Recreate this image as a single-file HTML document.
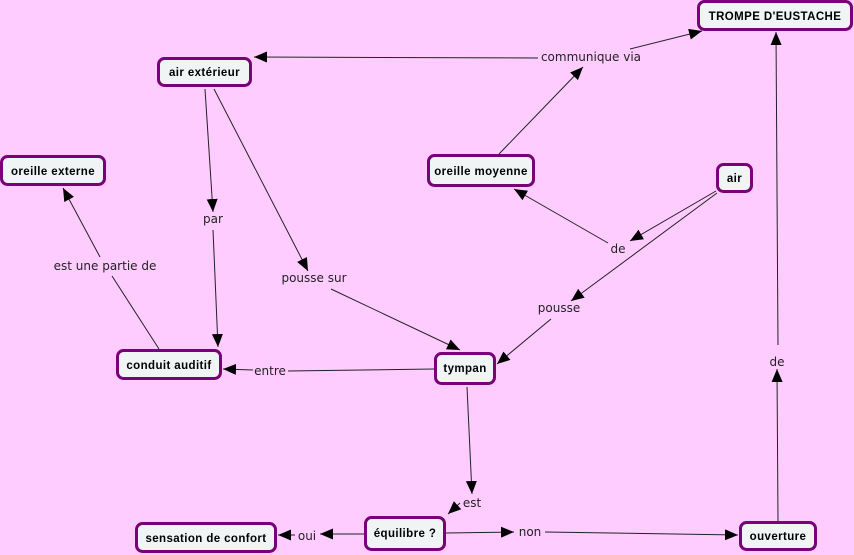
<!DOCTYPE html>
<html><head><meta charset="utf-8"><style>
html,body{margin:0;padding:0;background:#ffccff;}
svg{display:block;}
.n{fill:#f0f4f4;stroke:#780078;stroke-width:3;}
.t{font-family:"Liberation Sans",sans-serif;font-weight:bold;font-size:11.5px;letter-spacing:0.4px;fill:#000;text-anchor:middle;}
.l{font-family:"DejaVu Sans","Liberation Sans",sans-serif;font-size:12px;fill:#222;text-anchor:middle;}
line{stroke:#222;stroke-width:1;}
</style></head><body>
<svg width="854" height="555" viewBox="0 0 854 555" xmlns="http://www.w3.org/2000/svg">
<defs>
<marker id="a" markerUnits="userSpaceOnUse" markerWidth="13" markerHeight="11" refX="13" refY="5.5" orient="auto">
<path d="M0,0 L13,5.5 L0,11 z" fill="#000"/>
</marker>
</defs>
<rect x="0" y="0" width="854" height="555" fill="#ffccff"/>

<!-- connectors -->
<line x1="538" y1="58" x2="254" y2="57" marker-end="url(#a)"/>
<line x1="499" y1="154" x2="583" y2="67" marker-end="url(#a)"/>
<line x1="630" y1="49" x2="702" y2="31" marker-end="url(#a)"/>
<line x1="205" y1="89" x2="213" y2="212" marker-end="url(#a)"/>
<line x1="213" y1="230" x2="218" y2="347" marker-end="url(#a)"/>
<line x1="214" y1="89" x2="308" y2="271" marker-end="url(#a)"/>
<line x1="331" y1="289" x2="460" y2="350" marker-end="url(#a)"/>
<line x1="159" y1="349" x2="112" y2="276"/>
<line x1="100" y1="257" x2="63" y2="188" marker-end="url(#a)"/>
<line x1="716" y1="191" x2="630" y2="241" marker-end="url(#a)"/>
<line x1="608" y1="243" x2="514" y2="189" marker-end="url(#a)"/>
<line x1="717" y1="193" x2="571" y2="301" marker-end="url(#a)"/>
<line x1="551" y1="319" x2="497" y2="364" marker-end="url(#a)"/>
<line x1="434" y1="369" x2="288" y2="371"/>
<line x1="253" y1="370" x2="223" y2="369" marker-end="url(#a)"/>
<line x1="467" y1="387" x2="472" y2="494" marker-end="url(#a)"/>
<line x1="460" y1="503" x2="448" y2="514" marker-end="url(#a)"/>
<line x1="364" y1="534" x2="320" y2="534" marker-end="url(#a)"/>
<line x1="295" y1="535" x2="278" y2="535" marker-end="url(#a)"/>
<line x1="446" y1="533" x2="514" y2="532" marker-end="url(#a)"/>
<line x1="545" y1="532" x2="738" y2="535" marker-end="url(#a)"/>
<line x1="778" y1="521" x2="777" y2="369" marker-end="url(#a)"/>
<line x1="778" y1="345" x2="776" y2="32" marker-end="url(#a)"/>

<!-- labels -->
<text class="l" x="591" y="61">communique via</text>
<text class="l" x="213" y="223">par</text>
<text class="l" x="314" y="282">pousse sur</text>
<text class="l" x="105" y="270">est une partie de</text>
<text class="l" x="618" y="253">de</text>
<text class="l" x="559" y="312">pousse</text>
<text class="l" x="270" y="375">entre</text>
<text class="l" x="472" y="507">est</text>
<text class="l" x="307" y="540">oui</text>
<text class="l" x="530" y="536">non</text>
<text class="l" x="777" y="366">de</text>

<!-- nodes -->
<rect class="n" x="158.5" y="58.5" width="92" height="27" rx="6"/>
<text class="t" x="204.5" y="76">air extérieur</text>

<rect class="n" x="1.5" y="156.5" width="103" height="28" rx="6"/>
<text class="t" x="53" y="175">oreille externe</text>

<rect class="n" x="698.5" y="1.5" width="153" height="28" rx="6"/>
<text class="t" x="775" y="20">TROMPE D'EUSTACHE</text>

<rect class="n" x="428.5" y="155.5" width="105" height="30" rx="6"/>
<text class="t" x="481" y="175">oreille moyenne</text>

<rect class="n" x="717.5" y="164.5" width="34" height="27" rx="6"/>
<text class="t" x="734.5" y="182">air</text>

<rect class="n" x="117.5" y="350.5" width="103" height="28" rx="6"/>
<text class="t" x="169" y="369">conduit auditif</text>

<rect class="n" x="435.5" y="353.5" width="59" height="30" rx="6"/>
<text class="t" x="465" y="372">tympan</text>

<rect class="n" x="365.5" y="517.5" width="79" height="32" rx="6"/>
<text class="t" x="405" y="537">équilibre ?</text>

<rect class="n" x="136.5" y="523.5" width="139" height="28" rx="6"/>
<text class="t" x="206" y="542">sensation de confort</text>

<rect class="n" x="740.5" y="522.5" width="75" height="27" rx="6"/>
<text class="t" x="778" y="540">ouverture</text>
</svg>
</body></html>
